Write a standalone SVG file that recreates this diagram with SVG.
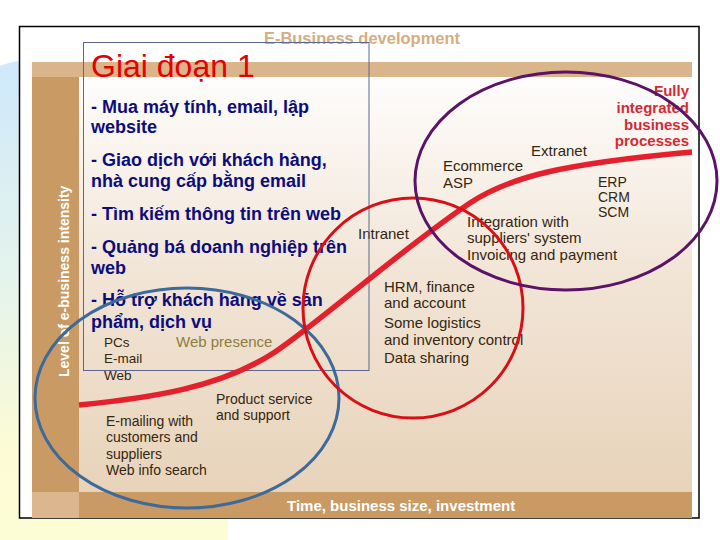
<svg xmlns="http://www.w3.org/2000/svg" width="720" height="540" viewBox="0 0 720 540">
<style>
.lbl{font-family:"Liberation Sans",Arial,Helvetica,sans-serif;font-size:15px;fill:#35260f}
.sm{font-size:14px}
.xs{font-size:13.5px}
.nv{font-family:"Liberation Sans",Arial,Helvetica,sans-serif;font-size:18px;font-weight:bold;fill:#0c0c7c}
.fi{font-family:"Liberation Sans",Arial,Helvetica,sans-serif;font-size:15px;font-weight:bold;fill:#d42a36;text-anchor:end}
.ax{font-family:"Liberation Sans",Arial,Helvetica,sans-serif;font-size:15px;font-weight:bold;fill:#ffffff}
.ell{fill:none;stroke-width:3}
</style>
<defs>
<linearGradient id="side" x1="0" y1="0" x2="0" y2="1">
<stop offset="0" stop-color="#cfe9fb"/>
<stop offset="0.45" stop-color="#e4f3ec"/>
<stop offset="0.8" stop-color="#fbfbd6"/>
<stop offset="1" stop-color="#fdfdd4"/>
</linearGradient>
<linearGradient id="area" x1="0" y1="0" x2="0" y2="1">
<stop offset="0" stop-color="#fefdfc"/>
<stop offset="0.45" stop-color="#f2e6d8"/>
<stop offset="1" stop-color="#e8d3ba"/>
</linearGradient>
</defs>
<rect x="0" y="0" width="720" height="540" fill="#ffffff"/>
<path d="M0,66 Q9,62 19,61 L19,540 L0,540 Z" fill="url(#side)"/>
<rect x="0" y="518" width="228" height="22" fill="#fdfdd5"/>
<g id="chart">
<rect x="19.5" y="26.5" width="679.5" height="491.5" fill="#ffffff" stroke="#000000" stroke-width="1.5"/>
<text x="362" y="44" text-anchor="middle" style="font-family:'Liberation Sans',Arial,sans-serif;font-size:16.5px;font-weight:bold;fill:#d4ad80">E-Business development</text>
<rect x="32" y="62" width="660" height="15" fill="#dab58b"/>
<rect x="79" y="77" width="613" height="415" fill="url(#area)"/>
<rect x="32" y="77" width="47" height="415" fill="#c99a63"/>
<rect x="32" y="492" width="660" height="26" fill="#c99a63"/>
<rect x="32" y="492" width="47" height="26" fill="#dbb68e"/>
<text class="ax" transform="translate(69,377) rotate(-90)" style="font-size:14px">Level of e-business intensity</text>
<text class="ax" x="287" y="511">Time, business size, investment</text>
</g>
<g id="labels">
<text class="lbl xs" x="104" y="347">PCs</text>
<text class="lbl xs" x="104" y="363">E-mail</text>
<text class="lbl xs" x="104" y="380">Web</text>
<text class="lbl" x="176" y="347" style="fill:#8f7c3e">Web presence</text>
<text class="lbl sm" x="216" y="404">Product service</text>
<text class="lbl sm" x="216" y="420">and support</text>
<text class="lbl sm" x="106" y="426">E-mailing with</text>
<text class="lbl sm" x="106" y="442">customers and</text>
<text class="lbl sm" x="106" y="459">suppliers</text>
<text class="lbl sm" x="106" y="475">Web info search</text>
<text class="lbl" x="358" y="239">Intranet</text>
<text class="lbl" x="384" y="292">HRM, finance</text>
<text class="lbl" x="384" y="308">and account</text>
<text class="lbl" x="384" y="328">Some logistics</text>
<text class="lbl" x="384" y="345">and inventory control</text>
<text class="lbl" x="384" y="363">Data sharing</text>
<text class="lbl" x="443" y="171">Ecommerce</text>
<text class="lbl" x="443" y="188">ASP</text>
<text class="lbl" x="531" y="156">Extranet</text>
<text class="lbl sm" x="598" y="187">ERP</text>
<text class="lbl sm" x="598" y="202">CRM</text>
<text class="lbl sm" x="598" y="217">SCM</text>
<text class="lbl" x="467" y="227">Integration with</text>
<text class="lbl" x="467" y="243">suppliers' system</text>
<text class="lbl" x="467" y="260">Invoicing and payment</text>
<text class="fi" x="689" y="96">Fully</text>
<text class="fi" x="689" y="113">integrated</text>
<text class="fi" x="689" y="130">business</text>
<text class="fi" x="689" y="146">processes</text>
</g>
<g id="stage1">
<rect x="83.5" y="42.5" width="285.5" height="328" fill="none" stroke="#5c6690" stroke-width="1"/>
<text x="91" y="77" style="font-family:'Liberation Sans',Arial,sans-serif;font-size:32px;fill:#e60000">Giai đoạn 1</text>
<text class="nv" x="91" y="113">- Mua máy tính, email, lập</text>
<text class="nv" x="91" y="133">website</text>
<text class="nv" x="91" y="166">- Giao dịch với khách hàng,</text>
<text class="nv" x="91" y="187">nhà cung cấp bằng email</text>
<text class="nv" x="91" y="220">- Tìm kiếm thông tin trên web</text>
<text class="nv" x="91" y="253">- Quảng bá doanh nghiệp trên</text>
<text class="nv" x="91" y="274">web</text>
<text class="nv" x="91" y="306">- Hỗ trợ khách hàng về sản</text>
<text class="nv" x="91" y="328">phẩm, dịch vụ</text>
</g>
<g id="connectors">
<path d="M79,405 C150,398 220,388 275,352 C320,322 400,250 470,203 C510,177 560,164 692,152" fill="none" stroke="#e3202b" stroke-width="5.5" stroke-linecap="butt"/>
</g>
<g id="stage-blue"><ellipse class="ell" cx="187" cy="398" rx="152" ry="110" stroke="#3d6a9a"/></g>
<g id="stage-red"><ellipse class="ell" cx="413" cy="308" rx="110" ry="110" stroke="#d80f16"/></g>
<g id="stage-purple"><ellipse class="ell" cx="566" cy="181" rx="151" ry="109" stroke="#5a1366" stroke-width="3.5"/></g>
</svg>
